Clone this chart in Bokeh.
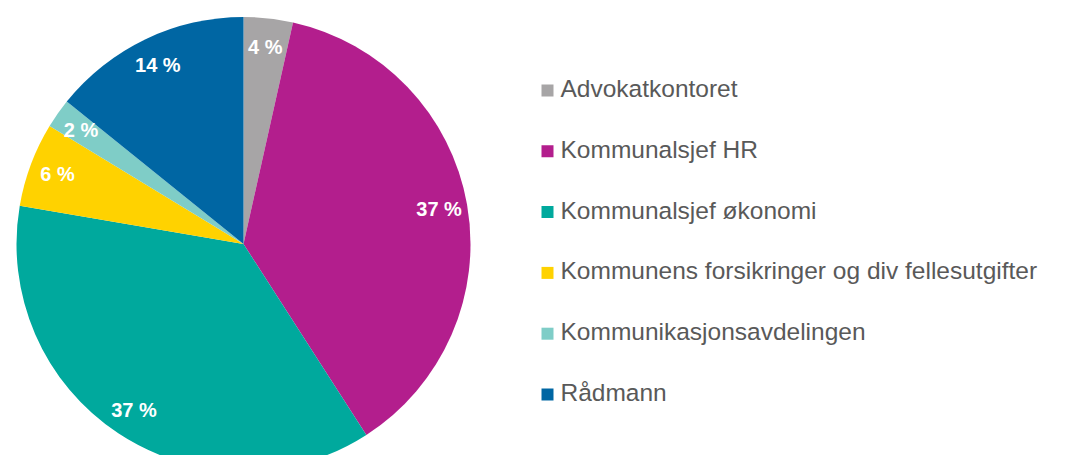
import math
from bokeh.plotting import figure
from bokeh.models import Range1d, ColumnDataSource
from bokeh.core.properties import value
from bokeh.embed import file_html
from bokeh.resources import INLINE

# ---- data ----
categories = ["Advokatkontoret", "Kommunalsjef HR", "Kommunalsjef økonomi",
              "Kommunens forsikringer og div fellesutgifter",
              "Kommunikasjonsavdelingen", "Rådmann"]
shares = [3.5, 37.4, 36.8, 6.0, 2.1, 14.2]
labels = ["4 %", "37 %", "37 %", "6 %", "2 %", "14 %"]
colors = ["#A7A5A6", "#B31E8D", "#00A99D", "#FFD200", "#7FCDC7", "#0066A3"]

# ---- layout (pixel-like data coordinates) ----
W, H = 1050, 455
cx, cy, r = 243.0, H - 243.5, 227.0
label_frac = 0.875
leg_x, leg_y0, leg_pitch = 547.0, 90.0, 60.8

p = figure(width=W, height=H, x_range=Range1d(0, W), y_range=Range1d(0, H),
           output_backend="svg", toolbar_location=None,
           x_axis_location=None, y_axis_location=None, min_border=0)
p.grid.visible = False
p.outline_line_color = None
p.background_fill_color = "white"
p.border_fill_color = "white"

total = sum(shares)
starts, ends, mids = [], [], []
cum = 0.0
for s in shares:
    a0 = math.pi / 2 - 2 * math.pi * cum / total
    cum += s
    a1 = math.pi / 2 - 2 * math.pi * cum / total
    starts.append(a0)
    ends.append(a1)
    mids.append((a0 + a1) / 2)

src = ColumnDataSource(dict(
    x=[cx] * len(shares), y=[cy] * len(shares),
    start=starts, end=ends, color=colors, cat=categories,
    lx=[cx + label_frac * r * math.cos(m) for m in mids],
    ly=[cy + label_frac * r * math.sin(m) for m in mids],
    label=labels,
))

p.wedge(x="x", y="y", radius=r, start_angle="start", end_angle="end",
        direction="clock", fill_color="color", line_color=None, source=src)

p.text(x="lx", y="ly", text="label", source=src, text_color="white",
       text_font=value("Liberation Sans"), text_font_style="bold",
       text_font_size="20px", text_align="center", text_baseline="middle")

# ---- legend (manual, square swatches) ----
n = len(categories)
leg = ColumnDataSource(dict(
    sx=[leg_x] * n,
    sy=[H - (leg_y0 + i * leg_pitch) for i in range(n)],
    tx=[leg_x + 13] * n,
    ty=[H - (leg_y0 + i * leg_pitch - 2) for i in range(n)],
    color=colors, cat=categories,
))
p.scatter(x="sx", y="sy", marker="square", size=12, fill_color="color",
          line_color=None, source=leg)
p.text(x="tx", y="ty", text="cat", source=leg, text_color="#595959",
       text_font=value("Liberation Sans"), text_font_size="24.5px",
       text_align="left", text_baseline="middle")

open("out.html", "w").write(file_html(p, INLINE))
